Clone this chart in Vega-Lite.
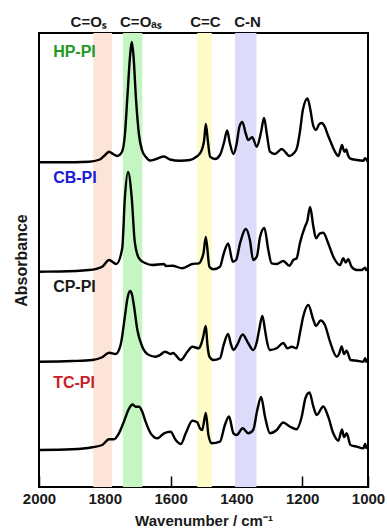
{
  "$schema": "https://vega.github.io/schema/vega-lite/v6.json",
  "width": 329,
  "height": 454,
  "autosize": {"type": "none"},
  "padding": {"left": 39, "top": 33, "right": 19, "bottom": 42},
  "config": {"font": "Liberation Sans", "view": {"stroke": "#000", "strokeWidth": 2}},
  "datasets": {
    "bands": [
      {"band": "C=Os", "from": 1835, "to": 1778},
      {"band": "C=Oas", "from": 1745, "to": 1686},
      {"band": "C=C", "from": 1519, "to": 1475},
      {"band": "C-N", "from": 1404, "to": 1339}
    ],
    "bandLabels": [
      {"label": "C=Oₛ", "wn": 1849, "a": 465},
      {"label": "C=Oₐₛ", "wn": 1690, "a": 465},
      {"label": "C=C", "wn": 1494, "a": 465},
      {"label": "C-N", "wn": 1366, "a": 465}
    ],
    "sampleLabels": [
      {"sample": "HP-PI", "wn": 1957, "a": 435},
      {"sample": "CB-PI", "wn": 1957, "a": 308.7},
      {"sample": "CP-PI", "wn": 1957, "a": 200.3},
      {"sample": "TC-PI", "wn": 1957, "a": 103.7}
    ],
    "spectra": [
      {"sample": "HP-PI", "wn": 2000, "a": 324.7},
      {"sample": "HP-PI", "wn": 1936, "a": 324.7},
      {"sample": "HP-PI", "wn": 1848, "a": 325.3},
      {"sample": "HP-PI", "wn": 1815, "a": 327.5},
      {"sample": "HP-PI", "wn": 1799, "a": 332},
      {"sample": "HP-PI", "wn": 1787, "a": 335.3},
      {"sample": "HP-PI", "wn": 1775, "a": 333},
      {"sample": "HP-PI", "wn": 1762, "a": 331},
      {"sample": "HP-PI", "wn": 1748, "a": 335},
      {"sample": "HP-PI", "wn": 1739, "a": 352},
      {"sample": "HP-PI", "wn": 1731, "a": 392},
      {"sample": "HP-PI", "wn": 1723, "a": 432},
      {"sample": "HP-PI", "wn": 1718, "a": 445},
      {"sample": "HP-PI", "wn": 1713, "a": 432},
      {"sample": "HP-PI", "wn": 1705, "a": 387},
      {"sample": "HP-PI", "wn": 1696, "a": 352},
      {"sample": "HP-PI", "wn": 1687, "a": 337},
      {"sample": "HP-PI", "wn": 1675, "a": 330},
      {"sample": "HP-PI", "wn": 1663, "a": 326.5},
      {"sample": "HP-PI", "wn": 1644, "a": 328},
      {"sample": "HP-PI", "wn": 1620, "a": 330.5},
      {"sample": "HP-PI", "wn": 1602, "a": 327.5},
      {"sample": "HP-PI", "wn": 1571, "a": 326.3},
      {"sample": "HP-PI", "wn": 1541, "a": 327},
      {"sample": "HP-PI", "wn": 1523, "a": 330},
      {"sample": "HP-PI", "wn": 1508, "a": 335},
      {"sample": "HP-PI", "wn": 1498, "a": 347},
      {"sample": "HP-PI", "wn": 1493, "a": 363},
      {"sample": "HP-PI", "wn": 1487, "a": 347},
      {"sample": "HP-PI", "wn": 1480, "a": 330.3},
      {"sample": "HP-PI", "wn": 1465, "a": 328},
      {"sample": "HP-PI", "wn": 1450, "a": 332},
      {"sample": "HP-PI", "wn": 1438, "a": 344},
      {"sample": "HP-PI", "wn": 1428, "a": 356.5},
      {"sample": "HP-PI", "wn": 1420, "a": 344},
      {"sample": "HP-PI", "wn": 1409, "a": 333},
      {"sample": "HP-PI", "wn": 1400, "a": 342},
      {"sample": "HP-PI", "wn": 1391, "a": 360},
      {"sample": "HP-PI", "wn": 1382, "a": 365},
      {"sample": "HP-PI", "wn": 1372, "a": 354},
      {"sample": "HP-PI", "wn": 1364, "a": 347},
      {"sample": "HP-PI", "wn": 1352, "a": 349.7},
      {"sample": "HP-PI", "wn": 1338, "a": 340.3},
      {"sample": "HP-PI", "wn": 1325, "a": 355},
      {"sample": "HP-PI", "wn": 1316, "a": 369},
      {"sample": "HP-PI", "wn": 1307, "a": 352},
      {"sample": "HP-PI", "wn": 1298, "a": 335.3},
      {"sample": "HP-PI", "wn": 1283, "a": 333},
      {"sample": "HP-PI", "wn": 1262, "a": 338},
      {"sample": "HP-PI", "wn": 1249, "a": 334},
      {"sample": "HP-PI", "wn": 1239, "a": 331},
      {"sample": "HP-PI", "wn": 1225, "a": 334},
      {"sample": "HP-PI", "wn": 1216, "a": 339},
      {"sample": "HP-PI", "wn": 1207, "a": 355},
      {"sample": "HP-PI", "wn": 1198, "a": 377},
      {"sample": "HP-PI", "wn": 1184, "a": 388.5},
      {"sample": "HP-PI", "wn": 1175, "a": 377},
      {"sample": "HP-PI", "wn": 1167, "a": 362},
      {"sample": "HP-PI", "wn": 1158, "a": 357},
      {"sample": "HP-PI", "wn": 1149, "a": 362.5},
      {"sample": "HP-PI", "wn": 1141, "a": 364},
      {"sample": "HP-PI", "wn": 1131, "a": 360},
      {"sample": "HP-PI", "wn": 1122, "a": 352},
      {"sample": "HP-PI", "wn": 1112, "a": 344},
      {"sample": "HP-PI", "wn": 1103, "a": 337},
      {"sample": "HP-PI", "wn": 1090, "a": 331},
      {"sample": "HP-PI", "wn": 1084, "a": 337},
      {"sample": "HP-PI", "wn": 1079, "a": 342},
      {"sample": "HP-PI", "wn": 1074, "a": 337},
      {"sample": "HP-PI", "wn": 1071, "a": 335.3},
      {"sample": "HP-PI", "wn": 1066, "a": 337.5},
      {"sample": "HP-PI", "wn": 1061, "a": 332},
      {"sample": "HP-PI", "wn": 1055, "a": 328.7},
      {"sample": "HP-PI", "wn": 1034, "a": 327},
      {"sample": "HP-PI", "wn": 1014, "a": 326.3},
      {"sample": "HP-PI", "wn": 1009, "a": 328.7},
      {"sample": "HP-PI", "wn": 1001, "a": 325.3},

      {"sample": "CB-PI", "wn": 2000, "a": 215.3},
      {"sample": "CB-PI", "wn": 1936, "a": 215.5},
      {"sample": "CB-PI", "wn": 1848, "a": 217},
      {"sample": "CB-PI", "wn": 1808, "a": 220.3},
      {"sample": "CB-PI", "wn": 1787, "a": 227},
      {"sample": "CB-PI", "wn": 1765, "a": 223},
      {"sample": "CB-PI", "wn": 1747, "a": 238.7},
      {"sample": "CB-PI", "wn": 1739, "a": 289},
      {"sample": "CB-PI", "wn": 1729.5, "a": 315},
      {"sample": "CB-PI", "wn": 1718, "a": 288.7},
      {"sample": "CB-PI", "wn": 1709, "a": 245.3},
      {"sample": "CB-PI", "wn": 1696, "a": 228.7},
      {"sample": "CB-PI", "wn": 1676, "a": 223.7},
      {"sample": "CB-PI", "wn": 1656, "a": 222},
      {"sample": "CB-PI", "wn": 1620, "a": 223},
      {"sample": "CB-PI", "wn": 1614, "a": 221},
      {"sample": "CB-PI", "wn": 1595, "a": 221.3},
      {"sample": "CB-PI", "wn": 1564, "a": 218.7},
      {"sample": "CB-PI", "wn": 1534, "a": 223},
      {"sample": "CB-PI", "wn": 1514, "a": 223.7},
      {"sample": "CB-PI", "wn": 1508, "a": 226},
      {"sample": "CB-PI", "wn": 1500, "a": 234},
      {"sample": "CB-PI", "wn": 1493, "a": 250},
      {"sample": "CB-PI", "wn": 1482, "a": 220.3},
      {"sample": "CB-PI", "wn": 1470, "a": 217.7},
      {"sample": "CB-PI", "wn": 1450, "a": 220.3},
      {"sample": "CB-PI", "wn": 1438, "a": 234},
      {"sample": "CB-PI", "wn": 1425, "a": 243.5},
      {"sample": "CB-PI", "wn": 1411, "a": 225.3},
      {"sample": "CB-PI", "wn": 1401, "a": 227},
      {"sample": "CB-PI", "wn": 1389, "a": 243.7},
      {"sample": "CB-PI", "wn": 1371, "a": 258},
      {"sample": "CB-PI", "wn": 1359, "a": 247},
      {"sample": "CB-PI", "wn": 1349, "a": 227},
      {"sample": "CB-PI", "wn": 1338, "a": 230.3},
      {"sample": "CB-PI", "wn": 1328, "a": 250.3},
      {"sample": "CB-PI", "wn": 1315, "a": 259},
      {"sample": "CB-PI", "wn": 1303, "a": 237},
      {"sample": "CB-PI", "wn": 1293, "a": 223.7},
      {"sample": "CB-PI", "wn": 1277.5, "a": 223},
      {"sample": "CB-PI", "wn": 1257.5, "a": 226},
      {"sample": "CB-PI", "wn": 1239, "a": 221.3},
      {"sample": "CB-PI", "wn": 1227, "a": 227},
      {"sample": "CB-PI", "wn": 1217, "a": 228.7},
      {"sample": "CB-PI", "wn": 1207, "a": 243.7},
      {"sample": "CB-PI", "wn": 1191.5, "a": 260.3},
      {"sample": "CB-PI", "wn": 1184.5, "a": 266},
      {"sample": "CB-PI", "wn": 1176, "a": 280},
      {"sample": "CB-PI", "wn": 1166, "a": 260.3},
      {"sample": "CB-PI", "wn": 1158, "a": 248.7},
      {"sample": "CB-PI", "wn": 1146, "a": 253.7},
      {"sample": "CB-PI", "wn": 1136, "a": 254.3},
      {"sample": "CB-PI", "wn": 1121, "a": 243.7},
      {"sample": "CB-PI", "wn": 1105.5, "a": 230.3},
      {"sample": "CB-PI", "wn": 1085, "a": 222},
      {"sample": "CB-PI", "wn": 1075, "a": 228.7},
      {"sample": "CB-PI", "wn": 1068, "a": 224.5},
      {"sample": "CB-PI", "wn": 1060, "a": 227.7},
      {"sample": "CB-PI", "wn": 1050, "a": 220.3},
      {"sample": "CB-PI", "wn": 1034, "a": 217},
      {"sample": "CB-PI", "wn": 1019, "a": 217},
      {"sample": "CB-PI", "wn": 1009, "a": 219.3},
      {"sample": "CB-PI", "wn": 1004, "a": 216},

      {"sample": "CP-PI", "wn": 2000, "a": 125.3},
      {"sample": "CP-PI", "wn": 1899, "a": 126},
      {"sample": "CP-PI", "wn": 1838, "a": 127},
      {"sample": "CP-PI", "wn": 1808, "a": 129.7},
      {"sample": "CP-PI", "wn": 1787, "a": 134.3},
      {"sample": "CP-PI", "wn": 1767, "a": 133},
      {"sample": "CP-PI", "wn": 1752, "a": 142},
      {"sample": "CP-PI", "wn": 1739, "a": 170.3},
      {"sample": "CP-PI", "wn": 1731, "a": 189},
      {"sample": "CP-PI", "wn": 1723, "a": 196},
      {"sample": "CP-PI", "wn": 1717, "a": 192},
      {"sample": "CP-PI", "wn": 1711, "a": 180.3},
      {"sample": "CP-PI", "wn": 1701, "a": 157},
      {"sample": "CP-PI", "wn": 1686, "a": 140.3},
      {"sample": "CP-PI", "wn": 1666, "a": 132},
      {"sample": "CP-PI", "wn": 1645, "a": 130.3},
      {"sample": "CP-PI", "wn": 1632, "a": 132},
      {"sample": "CP-PI", "wn": 1617, "a": 135.3},
      {"sample": "CP-PI", "wn": 1600, "a": 133},
      {"sample": "CP-PI", "wn": 1593, "a": 134},
      {"sample": "CP-PI", "wn": 1569, "a": 127},
      {"sample": "CP-PI", "wn": 1549, "a": 135.3},
      {"sample": "CP-PI", "wn": 1534, "a": 140.3},
      {"sample": "CP-PI", "wn": 1514, "a": 138.7},
      {"sample": "CP-PI", "wn": 1508, "a": 142},
      {"sample": "CP-PI", "wn": 1501, "a": 150},
      {"sample": "CP-PI", "wn": 1493, "a": 161},
      {"sample": "CP-PI", "wn": 1488, "a": 142},
      {"sample": "CP-PI", "wn": 1482, "a": 130.3},
      {"sample": "CP-PI", "wn": 1470, "a": 127},
      {"sample": "CP-PI", "wn": 1450, "a": 128.7},
      {"sample": "CP-PI", "wn": 1438, "a": 143},
      {"sample": "CP-PI", "wn": 1425.5, "a": 153},
      {"sample": "CP-PI", "wn": 1416, "a": 142},
      {"sample": "CP-PI", "wn": 1409, "a": 137},
      {"sample": "CP-PI", "wn": 1398, "a": 142},
      {"sample": "CP-PI", "wn": 1381, "a": 152.5},
      {"sample": "CP-PI", "wn": 1364, "a": 143.7},
      {"sample": "CP-PI", "wn": 1349, "a": 137},
      {"sample": "CP-PI", "wn": 1338, "a": 145},
      {"sample": "CP-PI", "wn": 1331, "a": 157},
      {"sample": "CP-PI", "wn": 1321, "a": 171},
      {"sample": "CP-PI", "wn": 1313, "a": 157},
      {"sample": "CP-PI", "wn": 1308, "a": 147},
      {"sample": "CP-PI", "wn": 1298, "a": 137},
      {"sample": "CP-PI", "wn": 1277.5, "a": 138.7},
      {"sample": "CP-PI", "wn": 1257.5, "a": 144},
      {"sample": "CP-PI", "wn": 1245, "a": 138.7},
      {"sample": "CP-PI", "wn": 1232, "a": 140.3},
      {"sample": "CP-PI", "wn": 1217, "a": 138.7},
      {"sample": "CP-PI", "wn": 1207, "a": 153.7},
      {"sample": "CP-PI", "wn": 1197, "a": 170.3},
      {"sample": "CP-PI", "wn": 1181.5, "a": 182},
      {"sample": "CP-PI", "wn": 1166, "a": 167},
      {"sample": "CP-PI", "wn": 1158, "a": 161},
      {"sample": "CP-PI", "wn": 1144, "a": 166.5},
      {"sample": "CP-PI", "wn": 1131, "a": 162},
      {"sample": "CP-PI", "wn": 1115.5, "a": 145.3},
      {"sample": "CP-PI", "wn": 1095, "a": 130.3},
      {"sample": "CP-PI", "wn": 1088, "a": 133},
      {"sample": "CP-PI", "wn": 1080, "a": 140.5},
      {"sample": "CP-PI", "wn": 1073, "a": 133},
      {"sample": "CP-PI", "wn": 1065, "a": 136.3},
      {"sample": "CP-PI", "wn": 1053, "a": 127},
      {"sample": "CP-PI", "wn": 1034, "a": 126.3},
      {"sample": "CP-PI", "wn": 1014, "a": 125.3},
      {"sample": "CP-PI", "wn": 1009, "a": 128.7},
      {"sample": "CP-PI", "wn": 1004, "a": 124.3},

      {"sample": "TC-PI", "wn": 2000, "a": 37},
      {"sample": "TC-PI", "wn": 1899, "a": 37.7},
      {"sample": "TC-PI", "wn": 1838, "a": 39.7},
      {"sample": "TC-PI", "wn": 1808, "a": 42},
      {"sample": "TC-PI", "wn": 1787, "a": 47.7},
      {"sample": "TC-PI", "wn": 1772, "a": 47.7},
      {"sample": "TC-PI", "wn": 1757, "a": 53.7},
      {"sample": "TC-PI", "wn": 1742, "a": 65.3},
      {"sample": "TC-PI", "wn": 1726, "a": 78.7},
      {"sample": "TC-PI", "wn": 1716, "a": 82.5},
      {"sample": "TC-PI", "wn": 1706, "a": 80.3},
      {"sample": "TC-PI", "wn": 1696, "a": 80.3},
      {"sample": "TC-PI", "wn": 1686, "a": 75.3},
      {"sample": "TC-PI", "wn": 1676, "a": 65.3},
      {"sample": "TC-PI", "wn": 1660.5, "a": 53.7},
      {"sample": "TC-PI", "wn": 1640, "a": 48.7},
      {"sample": "TC-PI", "wn": 1620, "a": 53.7},
      {"sample": "TC-PI", "wn": 1600, "a": 55.3},
      {"sample": "TC-PI", "wn": 1584.5, "a": 47},
      {"sample": "TC-PI", "wn": 1569, "a": 43},
      {"sample": "TC-PI", "wn": 1554, "a": 53.7},
      {"sample": "TC-PI", "wn": 1534, "a": 66.3},
      {"sample": "TC-PI", "wn": 1519, "a": 64.7},
      {"sample": "TC-PI", "wn": 1511, "a": 58.7},
      {"sample": "TC-PI", "wn": 1504, "a": 57},
      {"sample": "TC-PI", "wn": 1493, "a": 74},
      {"sample": "TC-PI", "wn": 1485, "a": 52},
      {"sample": "TC-PI", "wn": 1475, "a": 43.7},
      {"sample": "TC-PI", "wn": 1450, "a": 45.3},
      {"sample": "TC-PI", "wn": 1435, "a": 62},
      {"sample": "TC-PI", "wn": 1422.5, "a": 70.5},
      {"sample": "TC-PI", "wn": 1409, "a": 53.7},
      {"sample": "TC-PI", "wn": 1399, "a": 52},
      {"sample": "TC-PI", "wn": 1381, "a": 58.7},
      {"sample": "TC-PI", "wn": 1364, "a": 53.7},
      {"sample": "TC-PI", "wn": 1349, "a": 57},
      {"sample": "TC-PI", "wn": 1336.5, "a": 77},
      {"sample": "TC-PI", "wn": 1325, "a": 90},
      {"sample": "TC-PI", "wn": 1313, "a": 70.3},
      {"sample": "TC-PI", "wn": 1298, "a": 53.7},
      {"sample": "TC-PI", "wn": 1277.5, "a": 57},
      {"sample": "TC-PI", "wn": 1257.5, "a": 64.5},
      {"sample": "TC-PI", "wn": 1237, "a": 60.3},
      {"sample": "TC-PI", "wn": 1217, "a": 57.7},
      {"sample": "TC-PI", "wn": 1201.5, "a": 70.3},
      {"sample": "TC-PI", "wn": 1190, "a": 89},
      {"sample": "TC-PI", "wn": 1178, "a": 94.5},
      {"sample": "TC-PI", "wn": 1166, "a": 80.3},
      {"sample": "TC-PI", "wn": 1156, "a": 72},
      {"sample": "TC-PI", "wn": 1136, "a": 80.5},
      {"sample": "TC-PI", "wn": 1121, "a": 70.3},
      {"sample": "TC-PI", "wn": 1105.5, "a": 53.7},
      {"sample": "TC-PI", "wn": 1090, "a": 46.3},
      {"sample": "TC-PI", "wn": 1079, "a": 57.5},
      {"sample": "TC-PI", "wn": 1073, "a": 50},
      {"sample": "TC-PI", "wn": 1065, "a": 53.7},
      {"sample": "TC-PI", "wn": 1053, "a": 42},
      {"sample": "TC-PI", "wn": 1034, "a": 40.3},
      {"sample": "TC-PI", "wn": 1014, "a": 38.7},
      {"sample": "TC-PI", "wn": 1009, "a": 43},
      {"sample": "TC-PI", "wn": 1004, "a": 38}
    ]
  },
  "layer": [
    {
      "data": {"name": "bands"},
      "mark": {"type": "rect"},
      "encoding": {
        "x": {
          "field": "from", "type": "quantitative",
          "scale": {"domain": [1000, 2000], "reverse": true, "nice": false, "zero": false},
          "axis": {
            "title": "Wavenumber / cm⁻¹",
            "values": [2000, 1950, 1900, 1850, 1800, 1750, 1700, 1650, 1600, 1550, 1500, 1450, 1400, 1350, 1300, 1250, 1200, 1150, 1100, 1050, 1000],
            "format": "d",
            "labelExpr": "datum.value % 200 === 0 ? datum.label : ''",
            "tickSize": {"condition": {"test": "datum.value % 200 === 0", "value": -11}, "value": -7},
            "tickColor": "#000",
            "tickWidth": 1.5,
            "domain": false,
            "grid": false,
            "labelFontSize": 15,
            "labelFontWeight": "bold",
            "labelColor": "#1a1a1a",
            "labelPadding": 15,
            "labelFlush": false,
            "labelOverlap": false,
            "titleFontSize": 15,
            "titleFontWeight": "bold",
            "titleColor": "#1a1a1a",
            "titlePadding": 7
          }
        },
        "x2": {"field": "to"},
        "color": {
          "field": "band", "type": "nominal",
          "scale": {"domain": ["C=Os", "C=Oas", "C=C", "C-N"], "range": ["#fde4d8", "#c3f6c1", "#fdfcc9", "#dcdcfa"]},
          "legend": null
        }
      }
    },
    {
      "data": {"name": "spectra"},
      "mark": {"type": "line", "color": "#000", "strokeWidth": 2.4, "interpolate": "monotone"},
      "encoding": {
        "x": {"field": "wn", "type": "quantitative"},
        "y": {
          "field": "a", "type": "quantitative",
          "scale": {"domain": [0, 454], "nice": false, "zero": false},
          "axis": {
            "title": "Absorbance",
            "labels": false,
            "ticks": false,
            "domain": false,
            "grid": false,
            "titleFontSize": 16,
            "titleFontWeight": "bold",
            "titleColor": "#1a1a1a",
            "titlePadding": 10
          }
        },
        "detail": {"field": "sample", "type": "nominal"},
        "order": {"field": "wn", "sort": "descending"}
      }
    },
    {
      "data": {"name": "sampleLabels"},
      "mark": {"type": "text", "align": "left", "baseline": "middle", "fontSize": 16, "fontWeight": "bold"},
      "encoding": {
        "x": {"field": "wn", "type": "quantitative"},
        "y": {"field": "a", "type": "quantitative"},
        "text": {"field": "sample"},
        "color": {
          "field": "sample", "type": "nominal",
          "scale": {"domain": ["HP-PI", "CB-PI", "CP-PI", "TC-PI"], "range": ["#1f9a1f", "#1a1ad8", "#1a1a1a", "#c81e28"]},
          "legend": null
        }
      }
    },
    {
      "data": {"name": "bandLabels"},
      "mark": {"type": "text", "align": "center", "baseline": "middle", "fontSize": 15, "fontWeight": "bold", "color": "#1a1a1a"},
      "encoding": {
        "x": {"field": "wn", "type": "quantitative"},
        "y": {"field": "a", "type": "quantitative"},
        "text": {"field": "label"}
      }
    }
  ],
  "resolve": {"scale": {"color": "independent"}}
}
